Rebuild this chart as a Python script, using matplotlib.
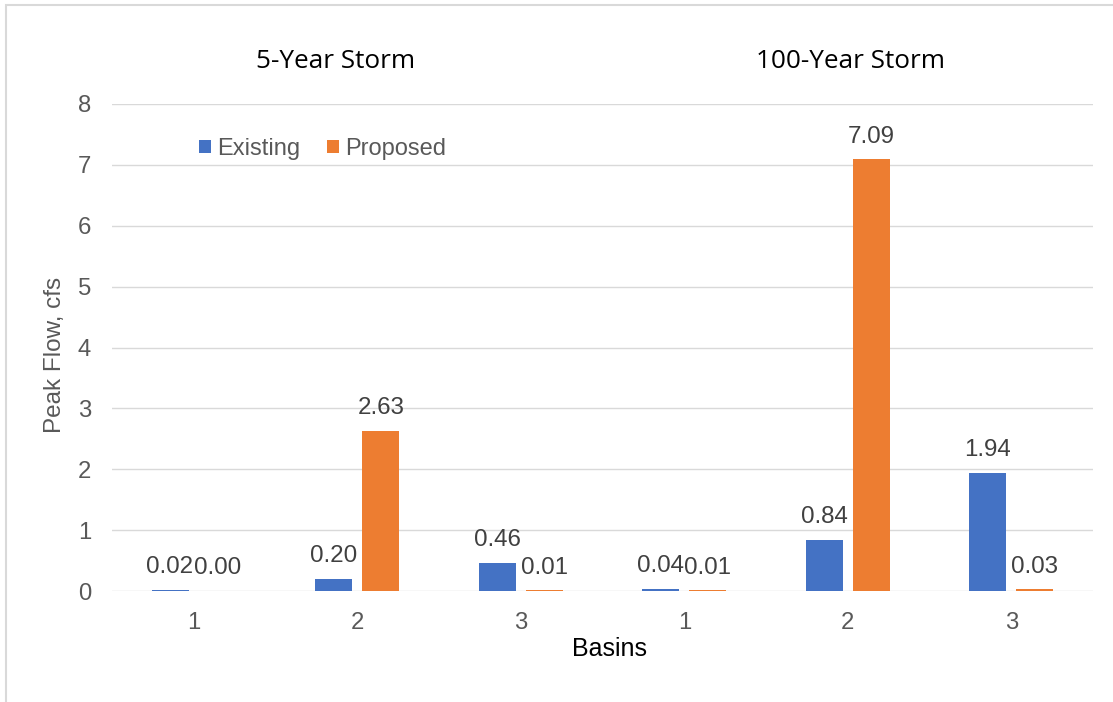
import numpy as np
import matplotlib
matplotlib.use("Agg")
import matplotlib.pyplot as plt
from matplotlib.patches import Rectangle

# Peak flow per basin, cfs
storms = ["5-Year Storm", "100-Year Storm"]
basins = ["1", "2", "3", "1", "2", "3"]
existing = [0.02, 0.20, 0.46, 0.04, 0.84, 1.94]
proposed = [0.00, 2.63, 0.01, 0.01, 7.09, 0.03]
y_ticks = [0, 1, 2, 3, 4, 5, 6, 7, 8]

BLUE = "#4472C4"
ORANGE = "#ED7D31"
GRID = "#D9D9D9"
TICK_GREY = "#595959"
LABEL_GREY = "#404040"

W, H = 1113, 702
plt.rcParams["font.family"] = ["Liberation Sans", "DejaVu Sans"]

fig = plt.figure(figsize=(W / 100, H / 100), dpi=100)
ax = fig.add_axes([112 / W, 1 - 591 / H, 981 / W, 487 / H])

x = np.arange(len(basins))
width = 0.226
offset = 0.145

bars_e = ax.bar(x - offset, existing, width, color=BLUE, label="Existing", zorder=3)
bars_p = ax.bar(x + offset, proposed, width, color=ORANGE, label="Proposed", zorder=3)

# value labels above each bar
for bars, values in [(bars_e, existing), (bars_p, proposed)]:
    for bar, v in zip(bars, values):
        ax.annotate(
            f"{v:.2f}",
            (bar.get_x() + bar.get_width() / 2, v),
            xytext=(0, 12),
            textcoords="offset points",
            ha="center",
            va="baseline",
            fontsize=17.4,
            color=LABEL_GREY,
        )

ax.set_xlim(-0.5, len(basins) - 0.5)
ax.set_ylim(0, 8)
ax.set_xticks(x)
ax.set_xticklabels(basins)
ax.set_yticks(y_ticks)
ax.tick_params(axis="both", length=0, labelsize=17.2, labelcolor=TICK_GREY, pad=15)

ax.grid(axis="y", color=GRID, linewidth=1.0, zorder=0)
ax.set_axisbelow(True)
for spine in ax.spines.values():
    spine.set_visible(False)

ax.legend(
    ncol=2,
    loc="center left",
    bbox_to_anchor=(199 / W, 1 - 149 / H),
    bbox_transform=fig.transFigure,
    frameon=False,
    fontsize=17.0,
    labelcolor=TICK_GREY,
    handlelength=0.5,
    handleheight=0.5,
    handletextpad=0.25,
    columnspacing=1.15,
    borderpad=0,
    borderaxespad=0,
)

# storm headings over each group of basins
title_font = ["Open Sans", "DejaVu Sans"]
fig.text(336 / W, 1 - 62 / H, storms[0], ha="center", va="center",
         fontsize=18.8, color="black", family=title_font)
fig.text(850 / W, 1 - 62 / H, storms[1], ha="center", va="center",
         fontsize=18.8, color="black", family=title_font)

fig.text(609 / W, 1 - 649 / H, "Basins", ha="center", va="center",
         fontsize=18, color="black")
fig.text(55 / W, 1 - 355 / H, "Peak Flow, cfs", ha="center", va="center",
         rotation=90, fontsize=17.5, color=TICK_GREY)

# light chart border
fig.patches.append(Rectangle(
    (6 / W, -0.1), 1.2, 1.1 - 5 / H,
    transform=fig.transFigure, fill=False, edgecolor=GRID, linewidth=1.5,
))

fig.savefig("out.png", dpi=100)
